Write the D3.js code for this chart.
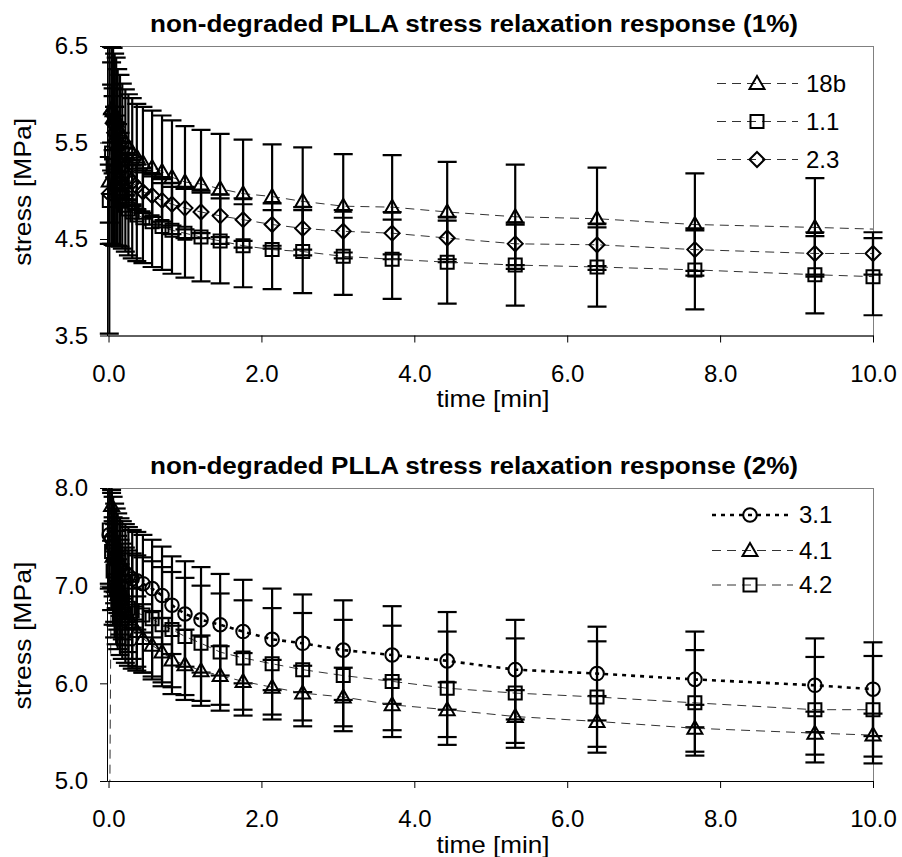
<!DOCTYPE html>
<html>
<head>
<meta charset="utf-8">
<script src="https://cdn.jsdelivr.net/npm/d3@7"></script>
<style>
  body { margin: 0; background: #fff; }
  svg { display: block; font-family: Arial, "Liberation Sans", sans-serif; }
</style>
</head>
<body>
<div id="chart"></div>
<script>
// Sampling times [min], shared by all series (18b's last sample lies past the axis end)
const time = [0.01, 0.04, 0.06, 0.08, 0.10, 0.12, 0.15, 0.18, 0.22, 0.26, 0.31, 0.37, 0.45, 0.57, 0.70,
              0.83, 1.00, 1.21, 1.46, 1.76, 2.14, 2.54, 3.07, 3.71, 4.43, 5.32, 6.39, 7.67, 9.24, 10.0];
const time18b = [0.01, 0.04, 0.06, 0.08, 0.10, 0.12, 0.15, 0.18, 0.22, 0.26, 0.31, 0.37, 0.45, 0.57, 0.70,
              0.83, 1.00, 1.21, 1.46, 1.76, 2.14, 2.54, 3.07, 3.71, 4.43, 5.32, 6.39, 7.67, 9.24, 11.0];

// 1% strain: stress [MPa] and standard deviation
const s18b = [5.10, 5.85, 5.83, 5.78, 5.72, 5.66, 5.60, 5.55, 5.50, 5.45, 5.40, 5.35, 5.29, 5.24, 5.20,
              5.14, 5.09, 5.07, 5.02, 4.97, 4.94, 4.89, 4.84, 4.83, 4.78, 4.73, 4.71, 4.65, 4.62, 4.58];
const e18b = [1.58, 0.64, 0.65, 0.64, 0.66, 0.60, 0.60, 0.56, 0.55, 0.55, 0.56, 0.55, 0.58, 0.59, 0.58,
              0.59, 0.58, 0.56, 0.57, 0.56, 0.54, 0.56, 0.54, 0.54, 0.52, 0.54, 0.53, 0.53, 0.51, 0.51];
const s11  = [4.90, 5.39, 5.25, 5.15, 5.07, 5.00, 4.94, 4.89, 4.85, 4.81, 4.78, 4.75, 4.72, 4.68, 4.63,
              4.59, 4.56, 4.52, 4.48, 4.43, 4.39, 4.37, 4.32, 4.29, 4.26, 4.23, 4.21, 4.18, 4.13, 4.11];
const e11  = [0.45, 0.94, 0.81, 0.72, 0.64, 0.57, 0.52, 0.49, 0.48, 0.48, 0.48, 0.48, 0.47, 0.47, 0.45,
              0.45, 0.46, 0.46, 0.44, 0.43, 0.41, 0.43, 0.40, 0.41, 0.43, 0.42, 0.41, 0.41, 0.40, 0.40];
const s23  = [4.97, 5.80, 5.70, 5.60, 5.52, 5.44, 5.35, 5.27, 5.20, 5.14, 5.09, 5.04, 4.99, 4.95, 4.90,
              4.86, 4.82, 4.78, 4.74, 4.70, 4.65, 4.61, 4.58, 4.56, 4.51, 4.45, 4.44, 4.39, 4.35, 4.35];
const e23  = [0.30, 0.30, 0.28, 0.27, 0.26, 0.25, 0.25, 0.24, 0.24, 0.23, 0.23, 0.23, 0.22, 0.22, 0.22,
              0.22, 0.22, 0.22, 0.22, 0.22, 0.22, 0.22, 0.22, 0.22, 0.22, 0.22, 0.22, 0.22, 0.22, 0.22];

// 2% strain
const s31  = [7.52, 7.48, 7.40, 7.33, 7.28, 7.23, 7.19, 7.16, 7.13, 7.10, 7.07, 7.05, 7.02, 6.97, 6.90,
              6.80, 6.71, 6.65, 6.60, 6.53, 6.45, 6.41, 6.34, 6.29, 6.23, 6.14, 6.10, 6.04, 5.98, 5.94];
const e31  = [0.50, 0.50, 0.51, 0.51, 0.51, 0.51, 0.50, 0.50, 0.50, 0.50, 0.50, 0.50, 0.50, 0.50, 0.50,
              0.50, 0.54, 0.54, 0.52, 0.53, 0.52, 0.50, 0.51, 0.50, 0.50, 0.51, 0.48, 0.49, 0.48, 0.48];
const s41  = [4.00, 7.82, 7.30, 6.99, 6.95, 6.91, 6.86, 6.81, 6.75, 6.68, 6.61, 6.53, 6.46, 6.39, 6.32,
              6.24, 6.19, 6.13, 6.08, 6.02, 5.96, 5.90, 5.86, 5.78, 5.73, 5.66, 5.61, 5.54, 5.49, 5.47];
const e41  = [0.00, 0.36, 0.36, 0.36, 0.36, 0.36, 0.36, 0.36, 0.36, 0.36, 0.36, 0.36, 0.35, 0.35, 0.35,
              0.35, 0.36, 0.36, 0.30, 0.29, 0.28, 0.28, 0.30, 0.26, 0.28, 0.27, 0.26, 0.24, 0.22, 0.22];
const s42  = [7.57, 7.35, 7.15, 7.05, 6.98, 6.93, 6.88, 6.84, 6.80, 6.77, 6.74, 6.72, 6.70, 6.66, 6.60,
              6.55, 6.48, 6.41, 6.32, 6.26, 6.20, 6.14, 6.08, 6.02, 5.95, 5.90, 5.86, 5.80, 5.73, 5.73];
const e42  = [0.60, 0.60, 0.55, 0.58, 0.58, 0.58, 0.59, 0.59, 0.59, 0.59, 0.59, 0.59, 0.59, 0.59, 0.59,
              0.59, 0.60, 0.59, 0.60, 0.59, 0.57, 0.58, 0.57, 0.57, 0.58, 0.56, 0.57, 0.54, 0.54, 0.55];

const xTicks = [0, 2, 4, 6, 8, 10];
const yTicks1 = [3.5, 4.5, 5.5, 6.5];
const yTicks2 = [5.0, 6.0, 7.0, 8.0];

// marker shapes, centred on the point
const markers = {
    triangle: "M0,-7.5L7.5,5.5L-7.5,5.5Z",
    square: "M-6.5,-6.5H6.5V6.5H-6.5Z",
    diamond: "M0,-7.5L7.5,0L0,7.5L-7.5,0Z",
    circle: "M6.8,0A6.8,6.8 0 1,1 -6.8,0A6.8,6.8 0 1,1 6.8,0Z"
};
const dashed = {dash: "9,6", width: 1, color: "#333"};
const dotted = {dash: "4,5", width: 2.6, color: "#000"};

const panels = [
    {
        title: "non-degraded PLLA stress relaxation response (1%)",
        top: 46, bottom: 335.5, yDomain: [3.5, 6.5], yTicks: yTicks1,
        legendRows: [83.5, 121.5, 159.5], legendX: [717, 798, 757, 806],
        series: [
            {name: "18b", t: time18b, v: s18b, e: e18b, marker: "triangle", line: dashed},
            {name: "1.1", t: time, v: s11, e: e11, marker: "square", line: dashed},
            {name: "2.3", t: time, v: s23, e: e23, marker: "diamond", line: dashed}
        ]
    },
    {
        title: "non-degraded PLLA stress relaxation response (2%)",
        top: 488, bottom: 781, yDomain: [5, 8], yTicks: yTicks2,
        legendRows: [515, 550.5, 585], legendX: [712, 793, 750, 799],
        series: [
            {name: "3.1", t: time, v: s31, e: e31, marker: "circle", line: dotted},
            {name: "4.1", t: time, v: s41, e: e41, marker: "triangle", line: dashed},
            {name: "4.2", t: time, v: s42, e: e42, marker: "square", line: dashed}
        ]
    }
];

const svg = d3.select("#chart").append("svg")
    .attr("width", 902)
    .attr("height", 857);

const left = 107, right = 873, capHalf = 9.5;

panels.forEach((p, i) => {
    let x = d3.scaleLinear().domain([-0.02, 10]).range([left, right]);
    let y = d3.scaleLinear().domain(p.yDomain).range([p.bottom, p.top]);

    // clip regions: lines exactly inside the plot, bars/markers may poke out sideways
    let defs = svg.append("defs");
    defs.append("clipPath").attr("id", "clipL" + i).append("rect")
        .attr("x", left).attr("y", p.top).attr("width", right - left).attr("height", p.bottom - p.top);
    defs.append("clipPath").attr("id", "clipM" + i).append("rect")
        .attr("x", left - 14).attr("y", p.top).attr("width", right - left + 28).attr("height", p.bottom - p.top + 1);

    // plot frame (gray), axes drawn on top in black
    svg.append("rect")
        .attr("x", left + 0.5).attr("y", p.top + 0.5)
        .attr("width", right - left).attr("height", p.bottom - p.top)
        .attr("fill", "none").attr("stroke", "#808080").attr("stroke-width", 1);

    let xAxis = svg.append("g")
        .attr("transform", "translate(0," + p.bottom + ")")
        .call(d3.axisBottom(x).tickValues(xTicks).tickFormat(d3.format(".1f")).tickSize(7).tickSizeOuter(0));
    xAxis.selectAll("text").attr("dy", null).attr("y", 46);

    let yAxis = svg.append("g")
        .attr("transform", "translate(" + left + ",0)")
        .call(d3.axisLeft(y).tickValues(p.yTicks).tickFormat(d3.format(".1f")).tickSize(7).tickPadding(12).tickSizeOuter(0));
    yAxis.selectAll("text").attr("dy", "0.32em");

    [xAxis, yAxis].forEach(a => {
        a.selectAll("text").attr("font-size", 24).attr("fill", "#000").attr("font-family", null);
        a.selectAll("line").attr("stroke", "#000");
        a.select(".domain").attr("stroke", "#000");
    });

    // titles
    svg.append("text")
        .attr("x", 474).attr("y", p.top - 14)
        .attr("text-anchor", "middle").attr("font-size", 23).attr("font-weight", "bold")
        .attr("textLength", 648).attr("lengthAdjust", "spacingAndGlyphs")
        .text(p.title);
    svg.append("text")
        .attr("x", 493).attr("y", p.bottom + 71.5)
        .attr("text-anchor", "middle").attr("font-size", 24)
        .attr("textLength", 113).attr("lengthAdjust", "spacingAndGlyphs")
        .text("time [min]");
    svg.append("text")
        .attr("transform", "translate(31," + ((p.top + p.bottom) / 2 + 1) + ") rotate(-90)")
        .attr("text-anchor", "middle").attr("font-size", 24)
        .attr("textLength", 148).attr("lengthAdjust", "spacingAndGlyphs")
        .text("stress [MPa]");

    let line = d3.line().x(d => x(d.t)).y(d => y(d.v));

    p.series.forEach(s => {
        let pts = s.t.map((t, k) => ({t: t, v: s.v[k], e: s.e[k]}));

        svg.append("path")
            .datum(pts)
            .attr("clip-path", "url(#clipL" + i + ")")
            .attr("d", line)
            .attr("fill", "none")
            .attr("stroke", s.line.color)
            .attr("stroke-width", s.line.width)
            .attr("stroke-dasharray", s.line.dash);

        // error bars
        let bars = svg.append("g").attr("clip-path", "url(#clipM" + i + ")")
            .attr("stroke", "#000").attr("stroke-width", 2.2);
        pts.filter(d => d.e > 0).forEach(d => {
            let cx = x(d.t), y0 = y(d.v - d.e), y1 = y(d.v + d.e);
            bars.append("line").attr("x1", cx).attr("x2", cx).attr("y1", y0).attr("y2", y1);
            bars.append("line").attr("x1", cx - capHalf).attr("x2", cx + capHalf).attr("y1", y0).attr("y2", y0);
            bars.append("line").attr("x1", cx - capHalf).attr("x2", cx + capHalf).attr("y1", y1).attr("y2", y1);
        });

        // open markers
        svg.append("g").attr("clip-path", "url(#clipM" + i + ")")
            .selectAll("path")
            .data(pts)
            .enter()
            .append("path")
            .attr("transform", d => "translate(" + x(d.t) + "," + y(d.v) + ")")
            .attr("d", markers[s.marker])
            .attr("fill", "none")
            .attr("stroke", "#000")
            .attr("stroke-width", 2);
    });

    // legend
    let [lx0, lx1, mx, tx] = p.legendX;
    p.series.forEach((s, k) => {
        let ly = p.legendRows[k];
        svg.append("line")
            .attr("x1", lx0).attr("x2", lx1).attr("y1", ly).attr("y2", ly)
            .attr("stroke", s.line.color).attr("stroke-width", s.line.width)
            .attr("stroke-dasharray", s.line.dash);
        svg.append("path")
            .attr("transform", "translate(" + mx + "," + ly + ")")
            .attr("d", markers[s.marker])
            .attr("fill", "none").attr("stroke", "#000").attr("stroke-width", 2);
        svg.append("text")
            .attr("x", tx).attr("y", ly + 8)
            .attr("font-size", 24)
            .text(s.name);
    });
});
</script>
</body>
</html>
